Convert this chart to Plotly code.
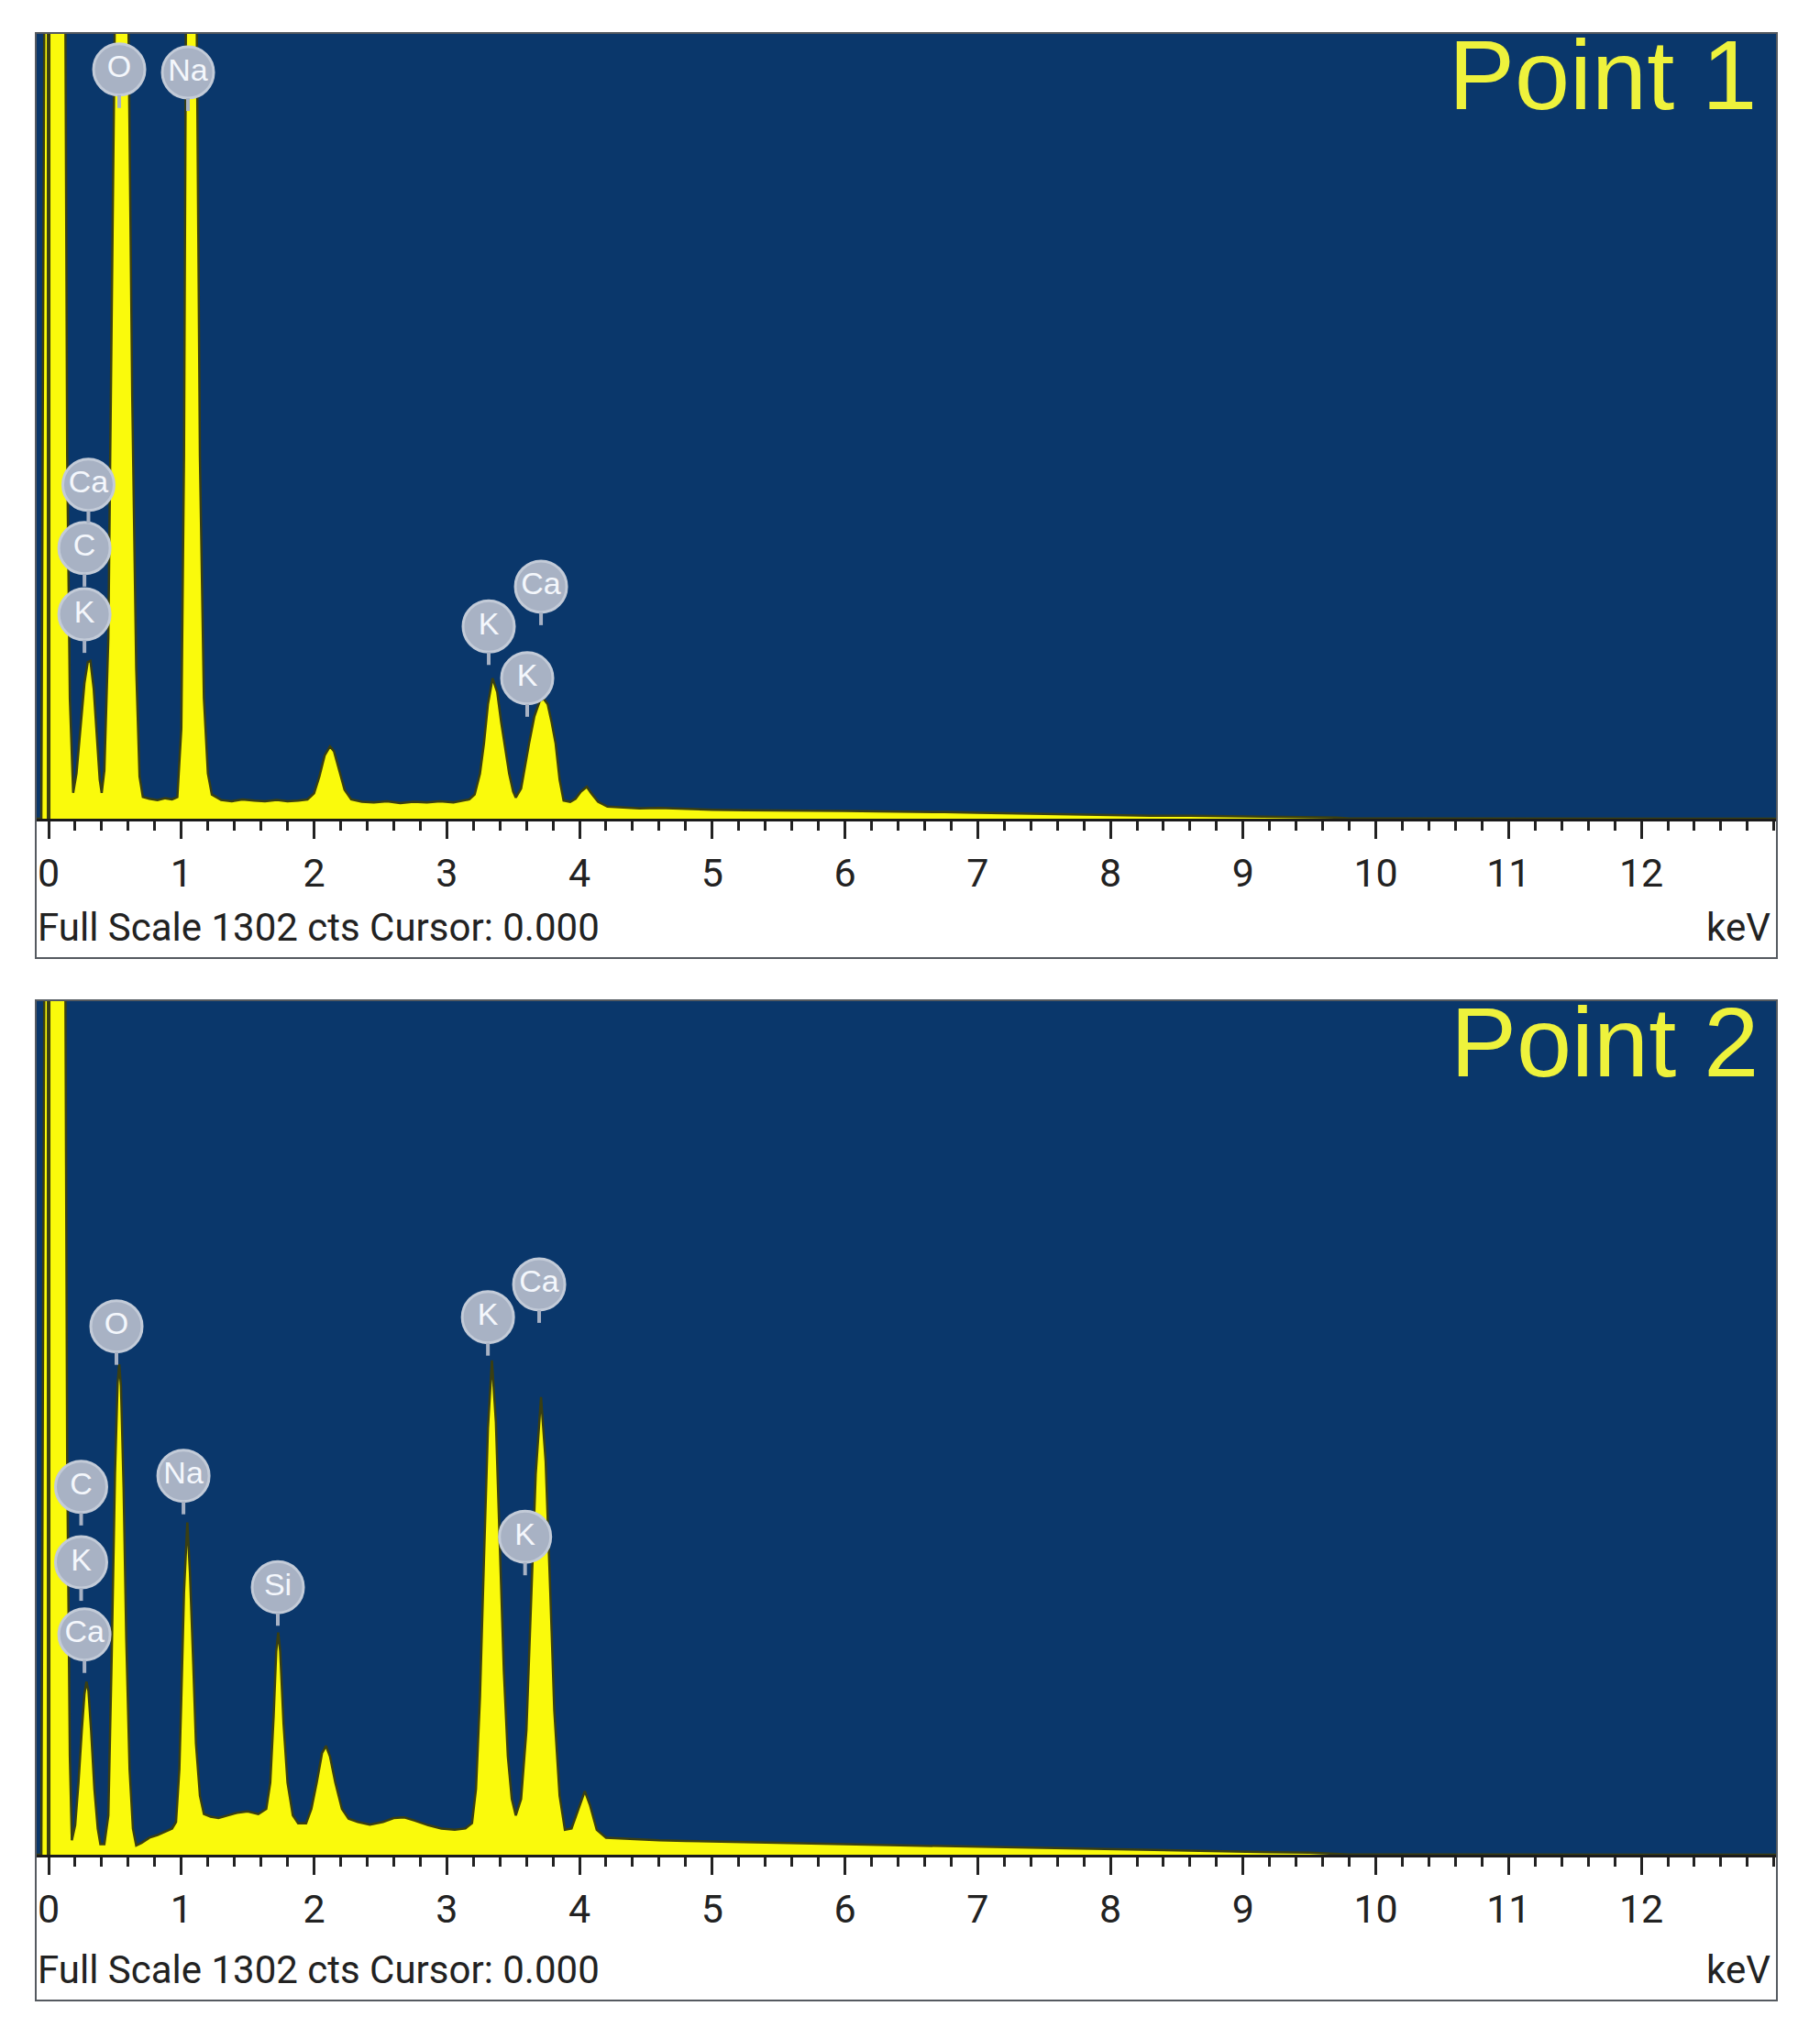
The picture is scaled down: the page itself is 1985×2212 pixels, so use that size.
import plotly.graph_objects as go

W, H = 1985, 2212
OFF = 8  # the page body margin, so the figure is made that much smaller

# spectrum of Point 1 (keV, counts)
kev1 = [-0.09, -0.055, -0.04, -0.03, 0.0, 0.05, 0.10, 0.125, 0.14, 0.16, 0.185,
        0.21, 0.24, 0.27, 0.295, 0.315, 0.34, 0.365, 0.385, 0.40,
        0.42, 0.45, 0.48, 0.505, 0.54, 0.575, 0.60, 0.63, 0.66, 0.685, 0.71,
        0.76, 0.82, 0.88, 0.93, 0.97,
        1.0, 1.02, 1.035, 1.075, 1.115, 1.14, 1.17, 1.20, 1.23,
        1.30, 1.38, 1.46, 1.55, 1.63, 1.72, 1.80, 1.88, 1.95,
        2.0, 2.04, 2.08, 2.12, 2.15, 2.19, 2.23, 2.28,
        2.36, 2.45, 2.55, 2.65, 2.75, 2.85, 2.95, 3.05, 3.13,
        3.17, 3.21, 3.25, 3.28, 3.31, 3.345, 3.38, 3.41, 3.44, 3.47, 3.50, 3.52,
        3.56, 3.59, 3.62, 3.66, 3.70, 3.73, 3.76, 3.79, 3.82, 3.85, 3.88,
        3.93, 3.97, 4.01, 4.055, 4.09, 4.14, 4.21,
        4.3, 4.45, 4.6, 4.8, 5.0, 5.25, 5.5, 5.75, 6.0, 6.25, 6.5, 6.75, 7.0,
        7.25, 7.5, 7.75, 8.0, 8.3, 8.6, 8.9, 9.2, 9.5, 9.7, 9.8, 10.5, 13.02]
counts1 = [0, 0, 900, 2000, 5000, 6000, 4000, 1400, 600, 200, 43,
           75, 150, 225, 260, 262, 215, 130, 65, 43,
           80, 300, 900, 1400, 2200, 1900, 1300, 700, 250, 70, 36,
           33, 31, 34, 32, 36,
           150, 600, 1350, 2100, 1350, 600, 200, 75, 40,
           31, 29, 32, 30, 29, 31, 29, 30, 32,
           42, 70, 105, 120, 112, 80, 48, 32,
           28, 27, 29, 26, 28, 27, 29, 27, 30,
           32, 40, 75, 125, 190, 233, 210, 160, 120, 75, 45, 35,
           50, 90, 125, 170, 195, 199, 190, 160, 125, 65, 30,
           28, 33, 45, 53, 42, 28, 20,
           19, 17, 18, 16, 15, 14, 14, 13, 13, 12, 12, 11, 10,
           9, 8, 7, 6, 5, 5, 4, 4, 3, 2, 0.5, 0.3, 0]

# spectrum of Point 2
kev2 = [-0.09, -0.055, -0.04, -0.03, 0.0, 0.05, 0.10, 0.125, 0.14, 0.16, 0.175,
        0.20, 0.225, 0.25, 0.27, 0.285, 0.30, 0.32, 0.345, 0.37, 0.39,
        0.42, 0.45, 0.475, 0.50, 0.52, 0.532, 0.545, 0.565, 0.585, 0.61, 0.635, 0.66,
        0.70, 0.76, 0.82, 0.88, 0.93,
        0.96, 0.985, 1.0, 1.02, 1.045, 1.065, 1.09, 1.11, 1.14, 1.17,
        1.22, 1.28, 1.35, 1.42, 1.50, 1.58,
        1.64, 1.67, 1.695, 1.715, 1.73, 1.745, 1.77, 1.80, 1.84, 1.88, 1.94,
        1.98, 2.02, 2.06, 2.09, 2.12, 2.16, 2.21, 2.26,
        2.33, 2.42, 2.52, 2.60, 2.68, 2.76, 2.86, 2.96, 3.06, 3.14,
        3.19, 3.22, 3.25, 3.28, 3.31, 3.34, 3.37, 3.40, 3.43, 3.46, 3.49, 3.52,
        3.56, 3.60, 3.635, 3.67, 3.71, 3.745, 3.78, 3.81, 3.85, 3.89,
        3.94, 3.99, 4.04, 4.08, 4.13, 4.20,
        4.3, 4.45, 4.6, 4.8, 5.0, 5.25, 5.5, 5.75, 6.0, 6.25, 6.5, 6.75, 7.0,
        7.25, 7.5, 7.75, 8.0, 8.3, 8.6, 8.9, 9.2, 9.5, 9.7, 9.8, 10.5, 13.02]
counts2 = [0, 0, 900, 2000, 5000, 6000, 4000, 1400, 600, 150, 22,
           45, 110, 190, 245, 264, 250, 190, 100, 40, 16,
           16, 60, 300, 580, 720, 748, 715, 560, 330, 130, 40, 14,
           18, 26, 30, 35, 40,
           50, 130, 240, 400, 507, 430, 290, 170, 90, 62,
           58, 56, 60, 64, 66, 62,
           70, 110, 210, 310, 339, 310, 200, 110, 60, 48, 48,
           70, 110, 155, 166, 150, 110, 70, 55,
           50, 46, 50, 56, 57, 52, 45, 40, 38, 40,
           48, 100, 240, 450, 650, 754, 660, 470, 280, 150, 85, 60,
           85, 190, 380, 580, 698, 600, 400, 220, 90, 38,
           40, 70, 97, 75, 38, 26,
           25, 23, 22, 21, 20, 19, 18, 17, 16, 15, 14, 13, 12,
           11, 10, 9, 8, 7, 6, 5, 4, 3, 2, 0.5, 0.3, 0]

# element markers
badge_text1 = ["O", "Na", "Ca", "C", "K", "K", "Ca", "K"]
badge_kev1 = [0.532, 1.05, 0.30, 0.27, 0.27, 3.316, 3.71, 3.606]
badge_cts1 = [1243, 1238, 554, 449, 339, 319, 385, 233]

badge_text2 = ["O", "Na", "C", "K", "Ca", "Si", "K", "Ca", "K"]
badge_kev2 = [0.511, 1.016, 0.245, 0.245, 0.27, 1.727, 3.31, 3.696, 3.59]
badge_cts2 = [806, 578, 561, 446, 336, 408, 820, 870, 485]

point_names = ["Point 1", "Point 2"]
footer = "Full Scale 1302 cts Cursor: 0.000"
full_scale = 1302
cursor_kev = 0.0

BLUE = "#0a376b"
YELLOW = "#fafa0c"
EDGE = "#3a3f12"
BADGE = "#a8b2c4"

# pixel layout of the two panels: plot top, axis line, frame bottom
panels = [dict(top=37, axis=893, bottom=1045),
          dict(top=1092, axis=2023, bottom=2182)]
left_px, right_px = 40, 1937
fw, fh = W - 2 * OFF, H - 2 * OFF

def fx(px):
    return (px - OFF) / fw

def fy(py):
    return 1 - (py - OFF) / fh

fig = go.Figure()
spectra = [(kev1, counts1), (kev2, counts2)]
badges = [(badge_text1, badge_kev1, badge_cts1), (badge_text2, badge_kev2, badge_cts2)]

for i, p in enumerate(panels):
    xa = "x" if i == 0 else "x2"
    ya = "y" if i == 0 else "y2"
    kev, cts = spectra[i]
    fig.add_trace(go.Scatter(x=kev, y=cts, mode="lines", fill="tozeroy",
                             fillcolor=YELLOW, line=dict(color=EDGE, width=2.5),
                             xaxis=xa, yaxis=ya, hoverinfo="skip"))
    txt, bk, bc = badges[i]
    fig.add_trace(go.Scatter(x=bk, y=bc, mode="markers+text", text=txt,
                             textposition="middle center",
                             textfont=dict(family="Liberation Sans, Arial", size=34, color="#f4f7fc"),
                             marker=dict(size=56, color=BADGE, line=dict(color="#c3cbd8", width=3)),
                             xaxis=xa, yaxis=ya, hoverinfo="skip"))
    # stems under the badges
    for k, c in zip(bk, bc):
        fig.add_shape(type="line", xref=xa, yref=ya, x0=k, x1=k,
                      ysizemode="pixel", yanchor=c, y0=-28, y1=-42,
                      line=dict(color=BADGE, width=4))
    # cursor line
    fig.add_shape(type="line", xref=xa, yref=ya + " domain", x0=cursor_kev, x1=cursor_kev,
                  y0=0, y1=1, line=dict(color=EDGE, width=4))
    # panel frame
    fig.add_shape(type="rect", xref="paper", yref="paper",
                  x0=fx(left_px - 1), x1=fx(right_px + 1), y0=fy(p["bottom"]), y1=fy(p["top"] - 1),
                  line=dict(color="#555a60", width=2))
    fig.add_annotation(text=footer, xref="paper", yref="paper", x=fx(left_px - 1),
                       y=fy(p["axis"] + (118 if i == 0 else 125)), xanchor="left", yanchor="middle",
                       showarrow=False, font=dict(family="Roboto", size=42, color="#222"))
    fig.add_annotation(text="keV", xref="paper", yref="paper", x=fx(right_px - 4),
                       y=fy(p["axis"] + (118 if i == 0 else 125)), xanchor="right", yanchor="middle",
                       showarrow=False, font=dict(family="Roboto", size=42, color="#222"))
    fig.add_annotation(text=point_names[i], xref="paper", yref="paper",
                       x=fx(1918 if i == 0 else 1920), y=fy(p["top"] + 44),
                       xanchor="right", yanchor="middle", showarrow=False,
                       font=dict(family="Liberation Sans, Arial", size=108, color="#eef23c"))

x_range = [-0.09, 13.015]
axis_common = dict(range=x_range, tickvals=list(range(13)), ticks="outside", ticklen=19,
                   tickwidth=3, tickcolor="#222", showgrid=False, zeroline=False,
                   showline=True, linecolor="#1b1b1b", linewidth=3,
                   tickfont=dict(family="Roboto", size=43, color="#222"),
                   minor=dict(dtick=0.2, tick0=0, ticks="outside", ticklen=10,
                              tickwidth=3, tickcolor="#222", showgrid=False),
                   domain=[fx(left_px), fx(right_px)], fixedrange=True)
yaxis_common = dict(range=[0, full_scale], visible=False, showgrid=False, zeroline=False,
                    fixedrange=True)

fig.update_layout(
    width=fw, height=fh, margin=dict(l=0, r=0, t=0, b=0),
    paper_bgcolor="white", plot_bgcolor=BLUE, showlegend=False,
    xaxis=dict(axis_common, anchor="y"),
    xaxis2=dict(axis_common, anchor="y2"),
    yaxis=dict(yaxis_common, domain=[fy(panels[0]["axis"]), fy(panels[0]["top"])], anchor="x"),
    yaxis2=dict(yaxis_common, domain=[fy(panels[1]["axis"]), fy(panels[1]["top"])], anchor="x2"),
)

fig.write_html("out.html")
